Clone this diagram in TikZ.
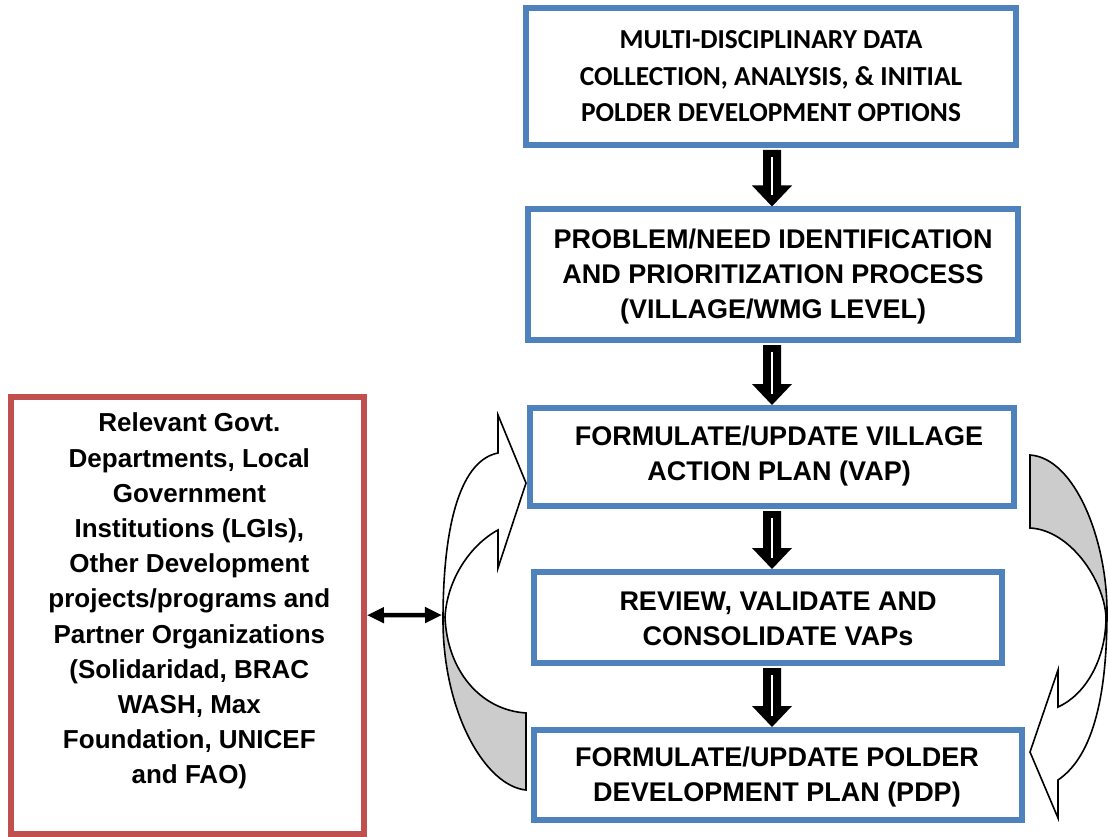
\documentclass[tikz,border=0pt]{standalone}
\usepackage{fontspec}
\setmainfont{Liberation Sans}
\newfontfamily\carlito{Carlito}
\usetikzlibrary{calc,arrows.meta}

\definecolor{boxblue}{HTML}{4F81BD}
\definecolor{boxred}{HTML}{C0504D}
\definecolor{arrowgray}{HTML}{CCCCCC}

% solid black block arrow with a thin white core line, from one box down to the next
\newcommand\flowarrow[2]{%
  \fill let \p1=(#1.south), \p2=(#2.north) in
    (763pt,\y1-2pt) -- (781pt,\y1-2pt) -- (781pt,\y2+21pt) -- (792pt,\y2+21pt)
    -- (772pt,\y2) -- (752pt,\y2+21pt) -- (763pt,\y2+21pt) -- cycle;
  \draw[white,line width=2.2pt] let \p1=(#1.south), \p2=(#2.north) in
    (772pt,\y1-9pt) -- (772pt,\y2+11pt);
}

\tikzset{
  stepbox/.style={draw=boxblue, line width=6pt, fill=white, inner sep=0pt},
  steptext/.style={align=center, inner sep=0pt, font=\fontsize{27pt}{35pt}\selectfont\bfseries},
  partnerbox/.style={draw=boxred, line width=6pt, inner sep=0pt},
  partnertext/.style={align=center, font=\fontsize{26pt}{35.2pt}\selectfont\bfseries},
  curvearrow/.style={draw=black, line width=1.6pt, line join=miter},
}

\begin{document}
\begin{tikzpicture}[x=1pt,y=-1pt]
\useasboundingbox (0,0) rectangle (1108,837);

% process boxes
\node[stepbox, minimum width=489.5pt, minimum height=136.7pt] (b1) at (770.75,76.65) {};
\node[stepbox, minimum width=490pt, minimum height=130.5pt] (b2) at (773,274.75) {};
\node[stepbox, minimum width=484pt, minimum height=98pt] (b3) at (772,457) {};
\node[stepbox, minimum width=468pt, minimum height=91pt] (b4) at (768,617.5) {};
\node[stepbox, minimum width=488pt, minimum height=90pt] (b5) at (778,775) {};

% box texts
\node[steptext, font=\carlito\fontsize{27.4pt}{36.5pt}\selectfont\bfseries] (t1) at (771,76.5)
  {MULTI-DISCIPLINARY DATA\\COLLECTION, ANALYSIS, \& INITIAL\\POLDER DEVELOPMENT OPTIONS};
\node[steptext] (t2) at (773,277)
  {PROBLEM/NEED IDENTIFICATION\\AND PRIORITIZATION PROCESS\\(VILLAGE/WMG LEVEL)};
\node[steptext] (t3) at (779,456.5)
  {FORMULATE/UPDATE VILLAGE\\ACTION PLAN (VAP)};
\node[steptext] (t4) at (778,619)
  {REVIEW, VALIDATE AND\\CONSOLIDATE VAPs};
\node[steptext] (t5) at (777,777)
  {FORMULATE/UPDATE POLDER\\DEVELOPMENT PLAN (PDP)};

% partner box
\node[partnerbox, minimum width=353.3pt, minimum height=436.5pt] (red) at (187.35,615.25) {};
\node[partnertext] (redtext) at ($(red.center)+(2,-14)$)
  {Relevant Govt.\\Departments, Local\\Government\\Institutions (LGIs),\\Other Development\\projects/programs and\\Partner Organizations\\(Solidaridad, BRAC\\WASH, Max\\Foundation, UNICEF\\and FAO)};

% downward block arrows
\flowarrow{b1}{b2}
\flowarrow{b2}{b3}
\flowarrow{b3}{b4}
\flowarrow{b4}{b5}

% left curved arrow (feedback into the village action plan)
\coordinate (lc) at (442,615);
\fill[arrowgray] (443,620) .. controls (443,712) and (485,786) .. (526,790)
  -- (526,713) .. controls (480,710) and (447,670) .. (445,617) -- cycle;
\draw[curvearrow] (526,790) .. controls (485,786) and (443,712) .. (443,620)
  .. controls (443,520) and (462,460) .. (498,453) -- (498,415) -- (526,483)
  -- (498,568) -- (498,530) .. controls (470,545) and (447,580) .. (445,617)
  .. controls (447,670) and (480,710) .. (526,713) -- cycle;

% right curved arrow (village plan down to the polder plan)
\fill[arrowgray] (1030,455) .. controls (1075,458) and (1107,540) .. (1107,612)
  -- (1106,617) .. controls (1104,580) and (1070,530) .. (1030,528) -- cycle;
\draw[curvearrow] (1030,455) .. controls (1075,458) and (1107,540) .. (1107,612)
  .. controls (1107,690) and (1095,755) .. (1058,780) -- (1058,818) -- (1030,752)
  -- (1058,670) -- (1058,707) .. controls (1085,695) and (1106,660) .. (1106,617)
  .. controls (1104,580) and (1070,530) .. (1030,528) -- cycle;

% two-way link between partners and the planning cycle
\draw[line width=4.5pt, {Triangle[length=17pt,width=15pt]}-{Triangle[length=17pt,width=15pt]}]
  (red.east) -- (lc);
\end{tikzpicture}
\end{document}
